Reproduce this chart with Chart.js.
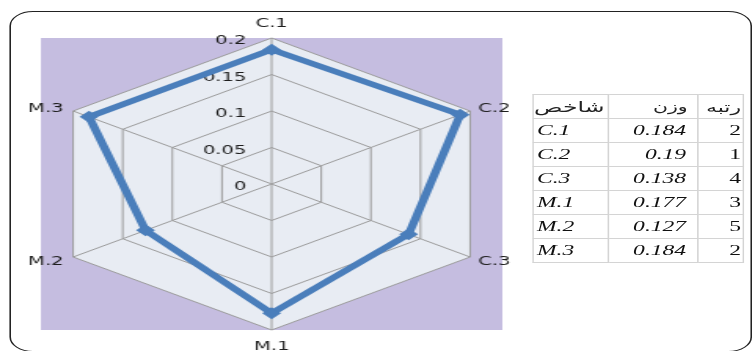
<!DOCTYPE html>
<html>
<head>
<meta charset="utf-8">
<script src="https://cdn.jsdelivr.net/npm/chart.js@4/dist/chart.umd.min.js"></script>
<style>
  html, body { margin: 0; padding: 0; background: #fff; overflow: hidden; }
  body { width: 752px; height: 351px; position: relative; }
  /* the source picture is stretched sideways, so the whole stage is too */
  #stage { position: absolute; left: 0; top: 0; width: 479px; height: 351px; transform: scaleX(1.57); transform-origin: 0 0; }
  #frame { position: absolute; left: 6px; top: 11px; width: 473px; height: 341px; box-sizing: border-box; border: 1.2px solid #222; border-radius: 15px; }
  #chartBox { position: absolute; left: 0; top: 0; width: 479px; height: 351px; }
  #weights { position: absolute; left: 339px; top: 94px; border-collapse: collapse; table-layout: fixed; width: 134px; }
  #weights td { height: 23px; padding: 0; border: 1px solid #d4d4d4; font: italic 15px "Liberation Serif", serif; color: #111; white-space: nowrap; overflow: hidden; }
  #weights td.name { text-align: left; padding-left: 2px; }
  #weights td.num { text-align: right; padding-right: 7px; }
  #weights td.rank { text-align: right; padding-right: 1px; font-style: normal; }
  #weights tr.head td { font: 13px "DejaVu Sans", sans-serif; color: #222; text-align: right; padding-right: 1px; }
  #weights tr.head td.c0 { font-size: 15px; padding-right: 2px; }
  #weights tr.head td.c1 { padding-right: 6px; }
  #weights tr.head td.c2 { font-size: 14px; }
</style>
</head>
<body>
<div id="stage">
  <div id="frame"></div>
  <div id="chartBox"><canvas id="radar"></canvas></div>
  <table id="weights">
    <colgroup><col style="width:48px"><col style="width:57px"><col style="width:29px"></colgroup>
    <tbody id="rows"></tbody>
  </table>
</div>
<script>
const categories = ['C.1', 'C.2', 'C.3', 'M.1', 'M.2', 'M.3'];
const weights = [0.184, 0.19, 0.138, 0.177, 0.127, 0.184];
const ranks = [2, 1, 4, 3, 5, 2];
const tickValues = [0, 0.05, 0.1, 0.15, 0.2];
const tickLabels = ['0', '0.05', '0.1', '0.15', '0.2'];
const headers = ['شاخص', 'وزن', 'رتبه'];

// table on the right
const rows = document.getElementById('rows');
let html = '<tr class="head">' + headers.map((h, i) => '<td class="c' + i + '" dir="rtl">' + h + '</td>').join('') + '</tr>';
categories.forEach((c, i) => {
  html += '<tr><td class="name">' + c + '</td><td class="num">' + weights[i] + '</td><td class="rank">' + ranks[i] + '</td></tr>';
});
rows.innerHTML = html;

// lavender plot area behind the hexagon
const plotBackground = {
  id: 'plotBackground',
  beforeDraw(chart) {
    const { ctx, chartArea: a } = chart;
    ctx.save();
    ctx.fillStyle = '#c5bde0';
    ctx.fillRect(a.left, a.top, a.right - a.left, a.bottom - a.top);
    ctx.restore();
  }
};

// tick labels sit left of the vertical spoke, category labels outside the corners
const axisText = {
  id: 'axisText',
  beforeDatasetsDraw(chart) {
    const ctx = chart.ctx;
    const r = chart.scales.r;
    ctx.save();
    ctx.font = '12.5px "DejaVu Sans"';
    ctx.fillStyle = '#1e1e1e';
    ctx.textBaseline = 'middle';
    ctx.textAlign = 'right';
    tickValues.forEach((v, i) => {
      const d = r.getDistanceFromCenterForValue(v);
      ctx.fillText(tickLabels[i], r.xCenter - 16, r.yCenter - d + 3);
    });
    categories.forEach((c, i) => {
      const p = r.getPointPosition(i, r.drawingArea);
      const dx = p.x - r.xCenter;
      const dy = p.y - r.yCenter;
      let x = p.x, y = p.y;
      if (Math.abs(dx) < 1) {
        ctx.textAlign = 'center';
        y += dy < 0 ? -14 : 17;
      } else {
        ctx.textAlign = dx > 0 ? 'left' : 'right';
        x += dx > 0 ? 5 : -6;
        y += dy < 0 ? -2 : 5;
      }
      ctx.fillText(c, x, y);
    });
    ctx.restore();
  }
};

new Chart(document.getElementById('radar'), {
  type: 'radar',
  data: {
    labels: categories,
    datasets: [{
      data: weights,
      borderColor: '#4a7ebb',
      backgroundColor: '#4a7ebb',
      borderWidth: 5.5,
      fill: false,
      pointStyle: 'rectRot',
      pointRadius: 6,
      pointBackgroundColor: '#4a7ebb',
      pointBorderColor: '#4a7ebb',
      pointBorderWidth: 0
    }]
  },
  options: {
    responsive: true,
    maintainAspectRatio: false,
    animation: false,
    layout: { padding: { left: 26, top: 38, right: 159, bottom: 21 } },
    plugins: { legend: { display: false }, tooltip: { enabled: false } },
    scales: {
      r: {
        min: 0,
        max: 0.2,
        ticks: { stepSize: 0.05, display: false },
        pointLabels: { display: false },
        backgroundColor: '#e8ecf3',
        grid: { color: '#9c9c9c', lineWidth: 1 },
        angleLines: { color: '#9c9c9c', lineWidth: 1 }
      }
    }
  },
  plugins: [plotBackground, axisText]
});
</script>
</body>
</html>
